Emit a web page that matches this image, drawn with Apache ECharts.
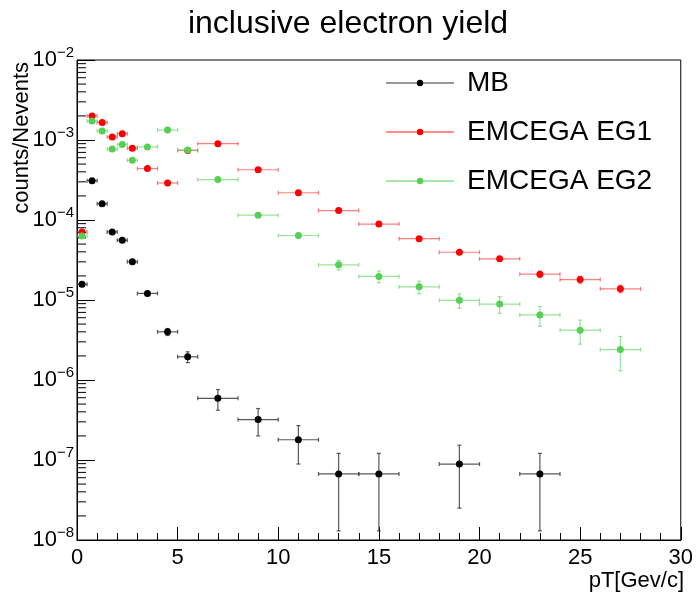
<!DOCTYPE html>
<html>
<head>
<meta charset="utf-8">
<script src="https://cdn.jsdelivr.net/npm/echarts@6/dist/echarts.min.js"></script>
<style>
html,body{margin:0;padding:0;background:#fff;}
#chart{width:696px;height:597px;}
</style>
</head>
<body>
<div id="chart"></div>
<script>
// ---- data ----
const ptCenters   = [0.25, 0.75, 1.25, 1.75, 2.25, 2.75, 3.5, 4.5, 5.5, 7, 9, 11, 13, 15, 17, 19, 21, 23, 25, 27];
const ptHalfWidth = [0.25, 0.25, 0.25, 0.25, 0.25, 0.25, 0.5, 0.5, 0.5, 1, 1, 1, 1, 1, 1, 1, 1, 1, 1, 1];

const mbY   = [1.57e-5, 3.1e-4, 1.6e-4, 7.1e-5, 5.6e-5, 3.0e-5, 1.21e-5, 4.0e-6, 1.95e-6, 5.9e-7, 3.2e-7, 1.79e-7, 6.7e-8, 6.7e-8, null, 8.9e-8, null, 6.7e-8, null, null];
const mbErr = [6e-7, 1e-5, 6e-6, 3e-6, 2.5e-6, 1.5e-6, 6e-7, 4e-7, 3e-7, 1.7e-7, 1.2e-7, 9e-8, 5.4e-8, 5.4e-8, null, 6.4e-8, null, 5.4e-8, null, null];

const eg1Y   = [7.1e-5, 2.0e-3, 1.66e-3, 1.09e-3, 1.2e-3, 7.9e-4, 4.4e-4, 2.9e-4, 7.4e-4, 9.0e-4, 4.25e-4, 2.19e-4, 1.31e-4, 8.9e-5, 5.85e-5, 3.95e-5, 3.27e-5, 2.1e-5, 1.8e-5, 1.38e-5];
const eg1Err = [3e-6, 5e-5, 4e-5, 3e-5, 3e-5, 2e-5, 1.2e-5, 8e-6, 1.5e-5, 1.5e-5, 8e-6, 5e-6, 3.5e-6, 2.5e-6, 2e-6, 1.5e-6, 1.4e-6, 1.9e-6, 1.8e-6, 1.5e-6];

const eg2Y   = [6.3e-5, 1.73e-3, 1.3e-3, 7.7e-4, 8.8e-4, 5.6e-4, 8.2e-4, 1.33e-3, 7.5e-4, 3.2e-4, 1.15e-4, 6.4e-5, 2.75e-5, 1.97e-5, 1.46e-5, 9.9e-6, 8.9e-6, 6.5e-6, 4.2e-6, 2.4e-6];
const eg2Err = [3e-6, 6e-5, 5e-5, 3.5e-5, 4e-5, 2.5e-5, 3.5e-5, 5e-5, 3e-5, 1.5e-5, 7e-6, 4e-6, 3.8e-6, 3.3e-6, 2.6e-6, 2.0e-6, 2.1e-6, 1.8e-6, 1.4e-6, 1.1e-6];

const seriesNames = ['MB', 'EMCEGA EG1', 'EMCEGA EG2'];
const xTicks = [0, 5, 10, 15, 20, 25, 30];
const yDecades = [-8, -7, -6, -5, -4, -3, -2];
const titleText = 'inclusive electron yield';
const xName = 'pT[Gev/c]';
const yName = 'counts/Nevents';

// ---- styling ----
const FONT = 'Liberation Sans, Arial, Helvetica, sans-serif';
const pointColors = ['#000000', '#ff0000', '#55d055'];
const barColors   = ['rgba(60,60,60,0.85)', 'rgba(255,0,0,0.5)', 'rgba(85,208,85,0.6)'];

function pointData(ys) {
  const out = [];
  ys.forEach((y, i) => { if (y != null) out.push([ptCenters[i], y]); });
  return out;
}
function errData(ys, es) {
  const out = [];
  ys.forEach((y, i) => {
    if (y != null) out.push([ptCenters[i], y, ptCenters[i] - ptHalfWidth[i], ptCenters[i] + ptHalfWidth[i], y - es[i], y + es[i]]);
  });
  return out;
}
const YMIN = Math.pow(10, yDecades[0]);
const YMAX = Math.pow(10, yDecades[yDecades.length - 1]);

function errRender(color) {
  return function (params, api) {
    const x = api.value(0), y = api.value(1);
    const xl = api.value(2), xh = api.value(3);
    let yl = api.value(4), yh = api.value(5);
    if (yl <= YMIN) yl = YMIN;
    const pc = api.coord([x, y]);
    const pl = api.coord([xl, y]);
    const ph = api.coord([xh, y]);
    const pyl = api.coord([x, yl]);
    const pyh = api.coord([x, yh]);
    const st = { stroke: color, lineWidth: 1.2 };
    const cap = 2;
    const ch = [
      { type: 'line', shape: { x1: pl[0], y1: pc[1], x2: ph[0], y2: pc[1] }, style: st },
      { type: 'line', shape: { x1: pl[0], y1: pc[1] - cap, x2: pl[0], y2: pc[1] + cap }, style: st },
      { type: 'line', shape: { x1: ph[0], y1: pc[1] - cap, x2: ph[0], y2: pc[1] + cap }, style: st },
      { type: 'line', shape: { x1: pc[0], y1: pyl[1], x2: pc[0], y2: pyh[1] }, style: st },
      { type: 'line', shape: { x1: pc[0] - cap, y1: pyl[1], x2: pc[0] + cap, y2: pyl[1] }, style: st },
      { type: 'line', shape: { x1: pc[0] - cap, y1: pyh[1], x2: pc[0] + cap, y2: pyh[1] }, style: st }
    ];
    return { type: 'group', children: ch };
  };
}

// minor log ticks (2..9 per decade)
const minorTickVals = [];
for (let k = 0; k < yDecades.length - 1; k++) {
  for (let m = 2; m <= 9; m++) minorTickVals.push([0, m * Math.pow(10, yDecades[k])]);
}

function legendIcon(lineCol, dotCol) {
  const svg = '<svg xmlns="http://www.w3.org/2000/svg" width="68" height="8" viewBox="0 0 68 8">' +
    '<line x1="0" y1="4" x2="68" y2="4" stroke="' + lineCol + '" stroke-width="1.3"/>' +
    '<circle cx="34" cy="4" r="3.2" fill="' + dotCol + '"/></svg>';
  return 'image://data:image/svg+xml;charset=utf-8,' + encodeURIComponent(svg);
}

const chart = echarts.init(document.getElementById('chart'), null, { renderer: 'canvas' });

const series = [];
const ys = [mbY, eg1Y, eg2Y], es = [mbErr, eg1Err, eg2Err];
for (let s = 0; s < 3; s++) {
  series.push({
    name: seriesNames[s] + ' err',
    type: 'custom',
    renderItem: errRender(barColors[s]),
    data: errData(ys[s], es[s]),
    clip: true,
    silent: true,
    z: 2 + s * 2,
    encode: { x: 0, y: 1 }
  });
  series.push({
    name: seriesNames[s],
    type: 'scatter',
    data: pointData(ys[s]),
    symbol: 'circle',
    symbolSize: 7,
    itemStyle: { color: pointColors[s], opacity: 1 },
    z: 3 + s * 2,
    silent: true
  });
}
series.push({
  name: 'minor ticks',
  type: 'custom',
  silent: true,
  z: 1,
  data: minorTickVals,
  renderItem: function (params, api) {
    const p = api.coord([0, api.value(1)]);
    return { type: 'line', shape: { x1: p[0], y1: p[1], x2: p[0] + 9, y2: p[1] }, style: { stroke: '#000', lineWidth: 1 } };
  }
});

const option = {
  backgroundColor: '#ffffff',
  animation: false,
  title: {
    text: titleText,
    left: 'center',
    top: 3,
    textStyle: { fontFamily: FONT, fontSize: 32, fontWeight: 'normal', color: '#000' }
  },
  legend: {
    orient: 'vertical',
    left: 381,
    top: 64,
    itemWidth: 68,
    itemHeight: 8,
    itemGap: 21,
    selectedMode: false,
    data: [
      { name: seriesNames[0], icon: legendIcon('#777777', '#000000') },
      { name: seriesNames[1], icon: legendIcon('#ff6464', '#ff0000') },
      { name: seriesNames[2], icon: legendIcon('#8ee08e', '#55d055') }
    ],
    textStyle: { fontFamily: FONT, fontSize: 28, color: '#000', padding: [0, 0, 0, 8] }
  },
  grid: {
    left: 77, right: 11, top: 60, bottom: 57,
    show: true, borderColor: '#000', borderWidth: 1, backgroundColor: 'transparent'
  },
  xAxis: {
    type: 'value',
    min: xTicks[0], max: xTicks[xTicks.length - 1], interval: 5,
    axisLine: { lineStyle: { color: '#000', width: 1 } },
    axisTick: { inside: true, length: 13, lineStyle: { color: '#000' } },
    minorTick: { show: true, splitNumber: 5, length: 7, lineStyle: { color: '#000' } },
    splitLine: { show: false },
    axisLabel: { fontFamily: FONT, fontSize: 22, color: '#000', margin: 7 }
  },
  yAxis: {
    type: 'log',
    logBase: 10,
    min: YMIN, max: YMAX,
    splitNumber: 6,
    axisLine: { lineStyle: { color: '#000', width: 1 } },
    axisTick: { inside: true, length: 18, lineStyle: { color: '#000' } },
    splitLine: { show: false },
    axisLabel: {
      margin: 3,
      formatter: function (v) {
        const e = Math.round(Math.log10(v));
        return '{b|10}{e|' + (e < 0 ? '\u2212' + (-e) : e) + '}';
      },
      rich: {
        b: { fontFamily: FONT, fontSize: 22, color: '#000', lineHeight: 30, verticalAlign: 'middle' },
        e: { fontFamily: FONT, fontSize: 15, color: '#000', lineHeight: 30, verticalAlign: 'top' }
      }
    }
  },
  graphic: [
    {
      type: 'text',
      x: 22, y: 62,
      rotation: Math.PI / 2,
      style: { text: yName, fontFamily: FONT, fontSize: 22, fill: '#000', align: 'right', verticalAlign: 'middle' }
    },
    {
      type: 'text',
      x: 684, y: 581,
      style: { text: xName, fontFamily: FONT, fontSize: 22, fill: '#000', align: 'right', verticalAlign: 'middle' }
    }
  ],
  series: series
};
chart.setOption(option);
</script>
</body>
</html>
